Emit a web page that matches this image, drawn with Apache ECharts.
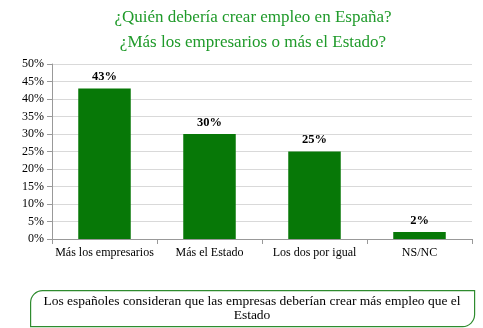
<!DOCTYPE html>
<html><head><meta charset="utf-8">
<script src="https://cdn.jsdelivr.net/npm/echarts@6/dist/echarts.min.js"></script>
<style>html,body{margin:0;padding:0;background:#fff}#c{width:483px;height:328px}</style>
</head><body><div id="c"></div>
<script>
const categories = ['Más los empresarios', 'Más el Estado', 'Los dos por igual', 'NS/NC'];
const values = [43, 30, 25, 2];
const yTicks = [0, 5, 10, 15, 20, 25, 30, 35, 40, 45, 50];
const titleLines = ['¿Quién debería crear empleo en España?', '¿Más los empresarios o más el Estado?'];
const noteText = 'Los españoles consideran que las empresas deberían crear más empleo que el\nEstado';

const serif = '"Liberation Serif", "DejaVu Serif", serif';
const chart = echarts.init(document.getElementById('c'));
chart.setOption({
  animation: false,
  grid: { left: 52, right: 11, top: 64, bottom: 89 },
  xAxis: {
    type: 'category', data: categories,
    axisLine: { lineStyle: { color: '#999' } },
    axisTick: { show: true, lineStyle: { color: '#999' } },
    axisLabel: { color: '#000', fontFamily: serif, fontSize: 12, margin: 8, interval: 0 }
  },
  yAxis: {
    type: 'value', min: yTicks[0], max: yTicks[yTicks.length - 1], interval: 5,
    axisLine: { show: true, lineStyle: { color: '#999' } },
    axisTick: { show: true, lineStyle: { color: '#999' } },
    splitLine: { lineStyle: { color: '#d9d9d9' } },
    axisLabel: { color: '#000', fontFamily: serif, fontSize: 12, formatter: v => v + '%' }
  },
  series: [{
    type: 'bar', data: values, barWidth: '50%',
    itemStyle: { color: '#077807' },
    label: { show: true, position: 'top', distance: 5, formatter: p => p.value + '%', color: '#000', fontFamily: serif, fontSize: 12.5, fontWeight: 'bold' }
  }],
  graphic: [{
    type: 'text', x: 253, y: 5,
    style: { text: titleLines.join('\n'), fill: '#1f9a2a', font: '17px ' + serif, textAlign: 'center', lineHeight: 25 }
  }, {
    type: 'rect', left: 30, top: 290,
    shape: { width: 444, height: 36, r: [12, 0, 12, 0] },
    style: { fill: '#fff', stroke: '#2e8b2e', lineWidth: 1.2 }
  }, {
    type: 'text', x: 252, y: 294,
    style: { text: noteText, fill: '#000', font: '13.5px ' + serif, textAlign: 'center', lineHeight: 14 }
  }]
});
</script></body></html>
